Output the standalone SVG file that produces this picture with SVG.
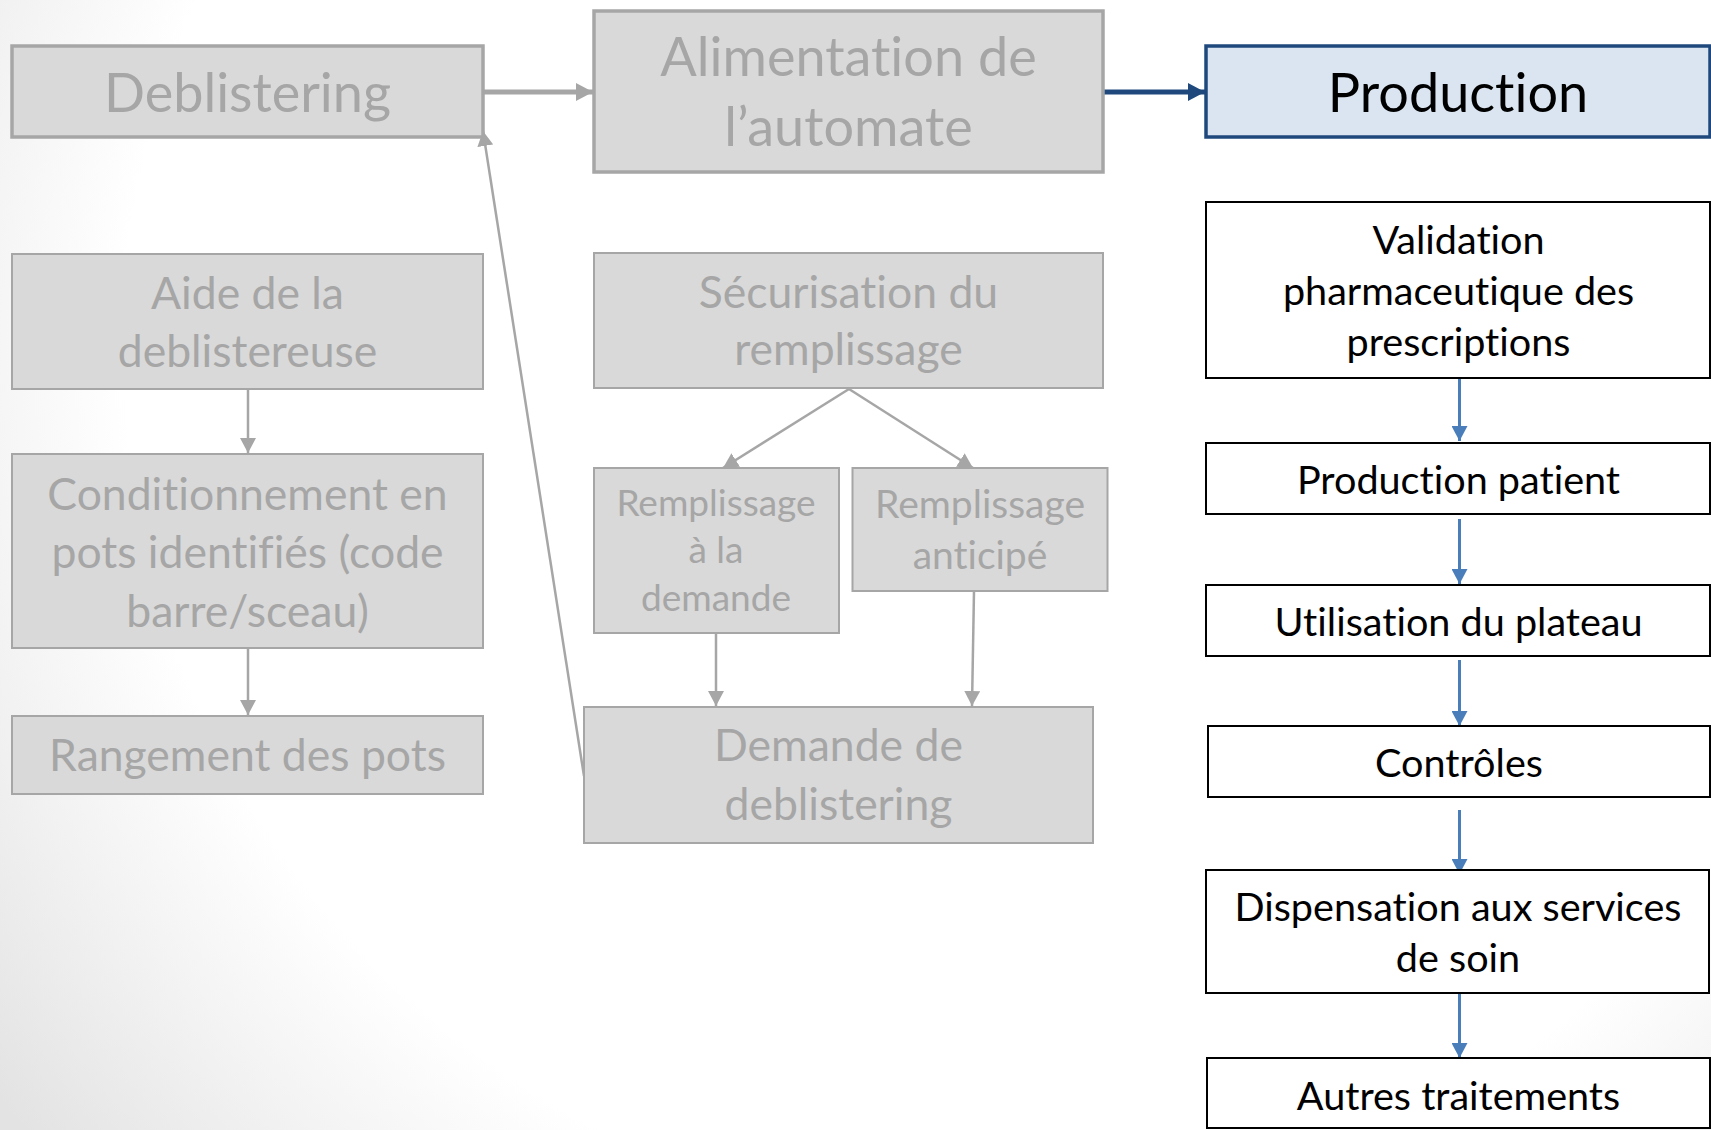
<svg xmlns="http://www.w3.org/2000/svg" width="1711" height="1130" viewBox="0 0 1711 1130">
  <defs>
    <radialGradient id="bg" gradientUnits="userSpaceOnUse" cx="1000" cy="350" r="1250">
      <stop offset="0" stop-color="#ffffff"/>
      <stop offset="0.7" stop-color="#ffffff"/>
      <stop offset="1" stop-color="#e3e3e3"/>
    </radialGradient>
    <marker id="ahGrayBig" markerUnits="userSpaceOnUse" markerWidth="18" markerHeight="18" refX="17" refY="9" orient="auto">
      <path d="M0,0 L17,9 L0,18 z" fill="#a6a6a6"/>
    </marker>
    <marker id="ahNavy" markerUnits="userSpaceOnUse" markerWidth="18" markerHeight="18" refX="17" refY="9" orient="auto">
      <path d="M0,0 L17,9 L0,18 z" fill="#1f497d"/>
    </marker>
    <marker id="ahGray" markerUnits="userSpaceOnUse" markerWidth="16" markerHeight="16" refX="15" refY="8" orient="auto">
      <path d="M0,0 L15,8 L0,16 z" fill="#a6a6a6"/>
    </marker>
    <marker id="ahBlue" markerUnits="userSpaceOnUse" markerWidth="16" markerHeight="16" refX="15" refY="8" orient="auto">
      <path d="M0,0 L15,8 L0,16 z" fill="#4a7ebb"/>
    </marker>
  </defs>
  <style>
    text { font-family: Lato, "Open Sans", sans-serif; text-anchor: middle; font-variant-ligatures: none; }
    .gbox { fill: #d9d9d9; stroke: #a6a6a6; stroke-width: 2; }
    .gbox-main { fill: #d9d9d9; stroke: #a6a6a6; stroke-width: 3.5; }
    .pbox { fill: #dbe5f1; stroke: #1f497d; stroke-width: 3.5; }
    .wbox { fill: #ffffff; stroke: #000000; stroke-width: 2; }
    .gt { fill: #a6a6a6; }
    .bt { fill: #000000; }
    .f58 { font-size: 54px; }
    .f48 { font-size: 44.5px; }
    .f43 { font-size: 39.6px; }
    .f40 { font-size: 37px; }
    .f42 { font-size: 39px; }
    .cg-big { stroke: #a6a6a6; stroke-width: 5; fill: none; }
    .cn-big { stroke: #1f497d; stroke-width: 5; fill: none; }
    .cg { stroke: #a6a6a6; stroke-width: 2.5; fill: none; }
    .cb { stroke: #4a7ebb; stroke-width: 3; fill: none; }
  </style>
  <rect x="0" y="0" width="1711" height="1130" fill="url(#bg)"/>

  <g id="connectors">
    <line class="cg-big" x1="483" y1="92" x2="593" y2="92" marker-end="url(#ahGrayBig)"/>
    <line class="cn-big" x1="1103" y1="92" x2="1205" y2="92" marker-end="url(#ahNavy)"/>
    <line class="cg" x1="248" y1="389" x2="248" y2="453" marker-end="url(#ahGray)"/>
    <line class="cg" x1="248" y1="649" x2="248" y2="715" marker-end="url(#ahGray)"/>
    <line class="cg" x1="849" y1="389" x2="723" y2="468" marker-end="url(#ahGray)"/>
    <line class="cg" x1="849" y1="389" x2="973" y2="468" marker-end="url(#ahGray)"/>
    <line class="cg" x1="716" y1="633" x2="716" y2="706" marker-end="url(#ahGray)"/>
    <line class="cg" x1="974" y1="591" x2="972" y2="706" marker-end="url(#ahGray)"/>
    <line class="cg" x1="584" y1="776" x2="483" y2="131" marker-end="url(#ahGray)"/>
    <line class="cb" x1="1459.5" y1="378" x2="1459.5" y2="441" marker-end="url(#ahBlue)"/>
    <line class="cb" x1="1459.5" y1="519" x2="1459.5" y2="584" marker-end="url(#ahBlue)"/>
    <line class="cb" x1="1459.5" y1="660" x2="1459.5" y2="726" marker-end="url(#ahBlue)"/>
    <line class="cb" x1="1459.5" y1="810" x2="1459.5" y2="874" marker-end="url(#ahBlue)"/>
    <line class="cb" x1="1459.5" y1="993" x2="1459.5" y2="1058" marker-end="url(#ahBlue)"/>
  </g>

  <g id="deblistering">
    <rect class="gbox-main" x="12" y="46" width="471" height="91"/>
    <text class="gt f58" x="247.5" y="112">Deblistering</text>
  </g>
  <g id="alimentation">
    <rect class="gbox-main" x="594" y="11" width="509" height="161"/>
    <text class="gt f58" x="848.5" y="76">Alimentation de</text>
    <text class="gt f58" x="848.5" y="146">l’automate</text>
  </g>
  <g id="production">
    <rect class="pbox" x="1206" y="46" width="504" height="91"/>
    <text class="bt f58" x="1458" y="112">Production</text>
  </g>

  <g id="aide">
    <rect class="gbox" x="12" y="254" width="471" height="135"/>
    <text class="gt f48" x="247.5" y="309">Aide de la</text>
    <text class="gt f48" x="247.5" y="367">deblistereuse</text>
  </g>
  <g id="conditionnement">
    <rect class="gbox" x="12" y="454" width="471" height="194"/>
    <text class="gt f48" x="247.5" y="510">Conditionnement en</text>
    <text class="gt f48" x="247.5" y="568">pots identifiés (code</text>
    <text class="gt f48" x="247.5" y="627">barre/sceau)</text>
  </g>
  <g id="rangement">
    <rect class="gbox" x="12" y="716" width="471" height="78"/>
    <text class="gt f48" x="247.5" y="771">Rangement des pots</text>
  </g>

  <g id="securisation">
    <rect class="gbox" x="594" y="253" width="509" height="135"/>
    <text class="gt f48" x="848.5" y="308">Sécurisation du</text>
    <text class="gt f48" x="848.5" y="365">remplissage</text>
  </g>
  <g id="remplissage-demande">
    <rect class="gbox" x="594" y="468" width="245" height="165"/>
    <text class="gt f40" x="716" y="516">Remplissage</text>
    <text class="gt f40" x="716" y="563">à la</text>
    <text class="gt f40" x="716" y="611">demande</text>
  </g>
  <g id="remplissage-anticipe">
    <rect class="gbox" x="852.5" y="468" width="255" height="123"/>
    <text class="gt f42" x="980" y="518">Remplissage</text>
    <text class="gt f42" x="980" y="569">anticipé</text>
  </g>
  <g id="demande">
    <rect class="gbox" x="584" y="707" width="509" height="136"/>
    <text class="gt f48" x="838.5" y="761">Demande de</text>
    <text class="gt f48" x="838.5" y="820">deblistering</text>
  </g>

  <g id="validation">
    <rect class="wbox" x="1206" y="202" width="504" height="176"/>
    <text class="bt f43" x="1458.5" y="254">Validation</text>
    <text class="bt f43" x="1458.5" y="305">pharmaceutique des</text>
    <text class="bt f43" x="1458.5" y="356">prescriptions</text>
  </g>
  <g id="production-patient">
    <rect class="wbox" x="1206" y="443" width="504" height="71"/>
    <text class="bt f43" x="1458.5" y="494">Production patient</text>
  </g>
  <g id="utilisation">
    <rect class="wbox" x="1206" y="585" width="504" height="71"/>
    <text class="bt f43" x="1458.5" y="636">Utilisation du plateau</text>
  </g>
  <g id="controles">
    <rect class="wbox" x="1208" y="726" width="502" height="71"/>
    <text class="bt f43" x="1459" y="777">Contrôles</text>
  </g>
  <g id="dispensation">
    <rect class="wbox" x="1206" y="870" width="503" height="123"/>
    <text class="bt f43" x="1458" y="921">Dispensation aux services</text>
    <text class="bt f43" x="1458" y="972">de soin</text>
  </g>
  <g id="autres">
    <rect class="wbox" x="1207" y="1058" width="503" height="70"/>
    <text class="bt f43" x="1458.5" y="1110">Autres traitements</text>
  </g>
</svg>
